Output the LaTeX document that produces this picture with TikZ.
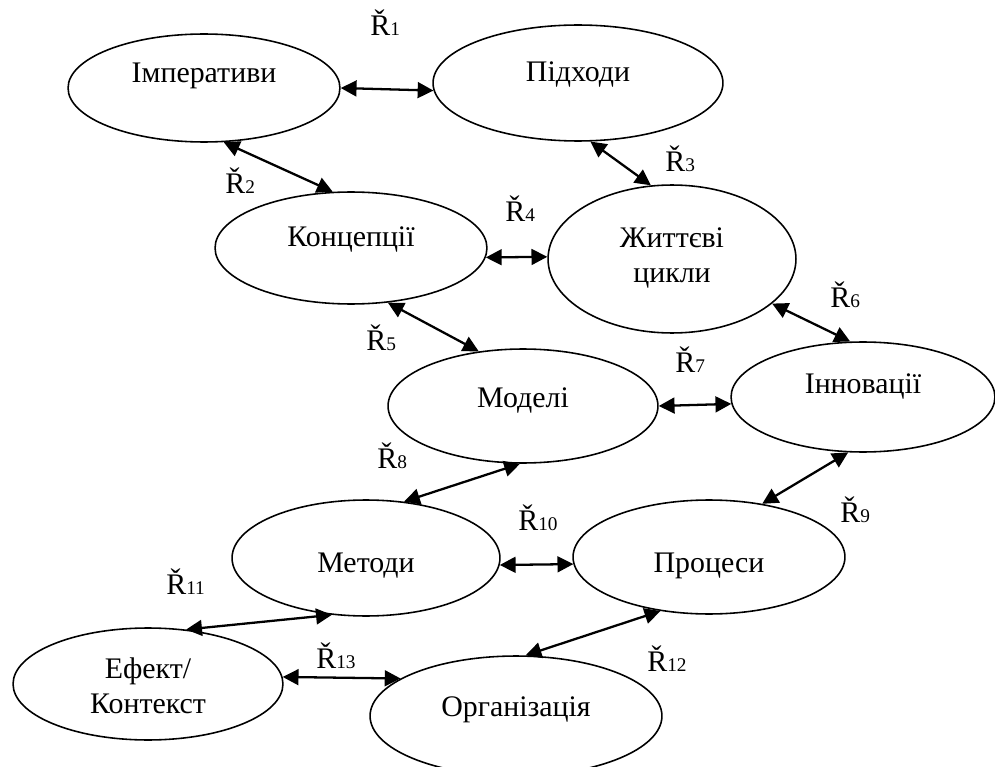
\documentclass[tikz,border=0pt]{standalone}
\usepackage{fontspec}
\setmainfont{Liberation Serif}
\usetikzlibrary{shapes.geometric,arrows.meta}
% small index digit after the relation letter
\newcommand\ridx[1]{{\fontsize{11}{13}\selectfont #1}}
\begin{document}
\begin{tikzpicture}[x=0.02cm,y=-0.02cm,
  ell/.style 2 args={draw,ellipse,line width=0.9pt,inner sep=0pt,
    minimum width=#1*0.04cm,minimum height=#2*0.04cm},
  txt/.style={font=\fontsize{17}{20}\selectfont,inner sep=0pt,align=center},
  lab/.style={font=\fontsize{17}{20}\selectfont,inner sep=0pt,anchor=base west},
  rel/.style={line width=1.3pt,
    {Triangle[length=9pt,width=9pt]}-{Triangle[length=9pt,width=9pt]}}]
\useasboundingbox (0,0) rectangle (995,767);

% concept ellipses
\node[ell={136}{54}] (imp) at (204,88) {};
\node[ell={145}{58}] (pid) at (578,83) {};
\node[ell={136}{56}] (con) at (351,248) {};
\node[ell={124}{74}] (zhy) at (672,259) {};
\node[ell={135}{57}] (mod) at (523,406) {};
\node[ell={132}{55}] (inn) at (863,397) {};
\node[ell={134}{58}] (met) at (366,558) {};
\node[ell={136}{57}] (pro) at (709,557) {};
\node[ell={135}{56}] (eff) at (148,684) {};
\node[ell={146}{60}] (org) at (516,716) {};

% ellipse captions
\node[txt] (imp-t) at (204,76) {Імперативи};
\node[txt] (pid-t) at (578,75) {Підходи};
\node[txt] (con-t) at (351,240) {Концепції};
\node[txt] (zhy-t) at (672,258) {Життєві\\цикли};
\node[txt] (mod-t) at (523,400) {Моделі};
\node[txt] (inn-t) at (863,386) {Інновації};
\node[txt] (met-t) at (366,566) {Методи};
\node[txt] (pro-t) at (709,566) {Процеси};
\node[txt] (eff-t) at (148,686) {Ефект/\\Контекст};
\node[txt] (org-t) at (516,710) {Організація};

% relations
\draw[rel] (imp.0)   -- (pid.183);
\draw[rel] (imp.-70) -- (con.108);
\draw[rel] (pid.-78) -- (zhy.106);
\draw[rel] (con.-4)  -- (zhy.179);
\draw[rel] (con.-56) -- (mod.129);
\draw[rel] (zhy.-24) -- (inn.103);
\draw[rel] (mod.0)   -- (inn.183);
\draw[rel] (met.56)  -- (mod.-93);
\draw[rel] (pro.45)  -- (inn.-105);
\draw[rel] (met.-3)  -- (pro.183);
\draw[rel] (eff.55)  -- (met.-121);
\draw[rel] (org.81)  -- (pro.-132);
\draw[rel] (eff.3)   -- (org.162);

% relation labels
\node[lab] (r1)  at (370,36)  {Ř\ridx{1}};
\node[lab] (r2)  at (225,194) {Ř\ridx{2}};
\node[lab] (r3)  at (665,172) {Ř\ridx{3}};
\node[lab] (r4)  at (505,221) {Ř\ridx{4}};
\node[lab] (r5)  at (366,350) {Ř\ridx{5}};
\node[lab] (r6)  at (830,307) {Ř\ridx{6}};
\node[lab] (r7)  at (675,372) {Ř\ridx{7}};
\node[lab] (r8)  at (377,468) {Ř\ridx{8}};
\node[lab] (r9)  at (840,522) {Ř\ridx{9}};
\node[lab] (r10) at (518,530) {Ř\ridx{10}};
\node[lab] (r11) at (166,594) {Ř\ridx{11}};
\node[lab] (r12) at (647,671) {Ř\ridx{12}};
\node[lab] (r13) at (316,668) {Ř\ridx{13}};
\end{tikzpicture}
\end{document}
